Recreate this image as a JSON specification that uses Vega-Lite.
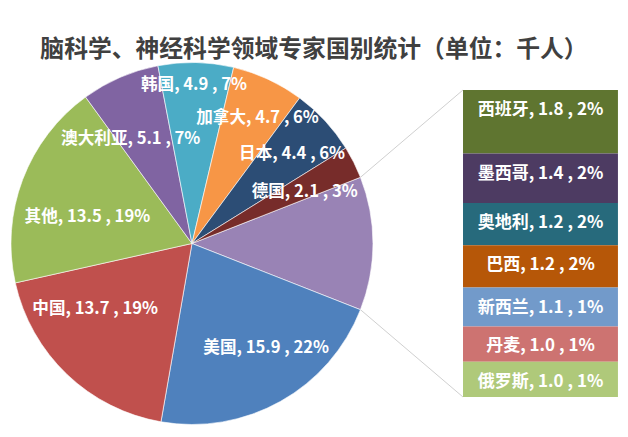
{
  "$schema": "https://vega.github.io/schema/vega-lite/v6.json",
  "width": 628,
  "height": 374,
  "autosize": "none",
  "padding": {"left": 0, "right": 0, "top": 63, "bottom": 0},
  "background": "white",
  "title": {
    "text": "脑科学、神经科学领域专家国别统计（单位：千人）",
    "font": "Noto Sans CJK SC",
    "fontSize": 23.8,
    "fontWeight": "bold",
    "color": "#404040",
    "anchor": "middle",
    "frame": "group",
    "offset": -1
  },
  "config": {"view": {"stroke": null}, "axis": {"disable": true}},
  "datasets": {
    "pie": [
      {"idx": 1, "name": "西班牙等七国", "value": 8.7, "pct": 12},
      {"idx": 2, "name": "美国", "value": 15.9, "pct": 22},
      {"idx": 3, "name": "中国", "value": 13.7, "pct": 19},
      {"idx": 4, "name": "其他", "value": 13.5, "pct": 19},
      {"idx": 5, "name": "澳大利亚", "value": 5.1, "pct": 7},
      {"idx": 6, "name": "韩国", "value": 4.9, "pct": 7},
      {"idx": 7, "name": "加拿大", "value": 4.7, "pct": 6},
      {"idx": 8, "name": "日本", "value": 4.4, "pct": 6},
      {"idx": 9, "name": "德国", "value": 2.1, "pct": 3}
    ],
    "bar": [
      {"idx": 1, "name": "西班牙", "value": 1.8, "pct": 2},
      {"idx": 2, "name": "墨西哥", "value": 1.4, "pct": 2},
      {"idx": 3, "name": "奥地利", "value": 1.2, "pct": 2},
      {"idx": 4, "name": "巴西", "value": 1.2, "pct": 2},
      {"idx": 5, "name": "新西兰", "value": 1.1, "pct": 1},
      {"idx": 6, "name": "丹麦", "value": 1.0, "pct": 1},
      {"idx": 7, "name": "俄罗斯", "value": 1.0, "pct": 1}
    ]
  },
  "layer": [
    {
      "data": {"values": [{}]},
      "mark": {"type": "rule", "color": "#d0d0d0", "strokeWidth": 1},
      "encoding": {
        "x": {"datum": 10.214, "type": "quantitative", "scale": {"domain": [0, 17.795], "nice": false, "zero": false}, "axis": null},
        "y": {"datum": 6.226, "type": "quantitative", "scale": {"domain": [-1.1335, 9.465], "nice": false, "zero": false}, "axis": null},
        "x2": {"datum": 13.12},
        "y2": {"datum": 8.7}
      }
    },
    {
      "data": {"values": [{}]},
      "mark": {"type": "rule", "color": "#d0d0d0", "strokeWidth": 1},
      "encoding": {
        "x": {"datum": 10.214, "type": "quantitative", "scale": {"domain": [0, 17.795], "nice": false, "zero": false}, "axis": null},
        "y": {"datum": 2.474, "type": "quantitative", "scale": {"domain": [-1.1335, 9.465], "nice": false, "zero": false}, "axis": null},
        "x2": {"datum": 13.12},
        "y2": {"datum": 0}
      }
    },
    {
      "data": {"name": "pie"},
      "mark": {"type": "arc", "outerRadius": 181, "stroke": "#ffffff", "strokeWidth": 0.6},
      "encoding": {
        "x": {"datum": 5.44, "type": "quantitative", "scale": {"domain": [0, 17.795], "nice": false, "zero": false}, "axis": null},
        "y": {"datum": 4.35, "type": "quantitative", "scale": {"domain": [-1.1335, 9.465], "nice": false, "zero": false}, "axis": null},
        "theta": {"field": "value", "type": "quantitative", "stack": true, "scale": {"range": [1.1964, 7.4796]}},
        "order": {"field": "idx", "type": "quantitative"},
        "color": {
          "field": "name",
          "type": "nominal",
          "legend": null,
          "scale": {
            "domain": ["西班牙等七国", "美国", "中国", "其他", "澳大利亚", "韩国", "加拿大", "日本", "德国", "西班牙", "墨西哥", "奥地利", "巴西", "新西兰", "丹麦", "俄罗斯"],
            "range": ["#9983B5", "#4F81BD", "#C0504D", "#9BBB59", "#8064A2", "#4BACC6", "#F79646", "#2C4D75", "#772C2A", "#5F7530", "#4D3B62", "#276A7C", "#B65708", "#729ACA", "#CD7371", "#AFC97A"]
          }
        }
      }
    },
    {
      "data": {"name": "pie"},
      "transform": [{"calculate": "datum.name + ', ' + format(datum.value, '.1f') + ' , ' + datum.pct + '%'", "as": "label"}],
      "mark": {"type": "text", "radius": 159, "thetaOffset": -0.009, "font": "Noto Sans CJK SC", "fontSize": 16.6, "fontWeight": "bold", "color": "#ffffff", "align": "center", "baseline": "middle"},
      "encoding": {
        "x": {"datum": 5.44, "type": "quantitative"},
        "y": {"datum": 4.35, "type": "quantitative"},
        "theta": {"field": "value", "type": "quantitative", "stack": true},
        "order": {"field": "idx", "type": "quantitative"},
        "text": {"condition": {"test": "datum.name === '韩国'", "field": "label", "type": "nominal"}, "value": ""}
      }
    },
    {
      "data": {"name": "pie"},
      "transform": [{"calculate": "datum.name + ', ' + format(datum.value, '.1f') + ' , ' + datum.pct + '%'", "as": "label"}],
      "mark": {"type": "text", "radius": 142, "thetaOffset": 0.045, "font": "Noto Sans CJK SC", "fontSize": 16.6, "fontWeight": "bold", "color": "#ffffff", "align": "center", "baseline": "middle"},
      "encoding": {
        "x": {"datum": 5.44, "type": "quantitative"},
        "y": {"datum": 4.35, "type": "quantitative"},
        "theta": {"field": "value", "type": "quantitative", "stack": true},
        "order": {"field": "idx", "type": "quantitative"},
        "text": {"condition": {"test": "datum.name === '加拿大'", "field": "label", "type": "nominal"}, "value": ""}
      }
    },
    {
      "data": {"name": "pie"},
      "transform": [{"calculate": "datum.name + ', ' + format(datum.value, '.1f') + ' , ' + datum.pct + '%'", "as": "label"}],
      "mark": {"type": "text", "radius": 134, "thetaOffset": 0.017, "font": "Noto Sans CJK SC", "fontSize": 16.6, "fontWeight": "bold", "color": "#ffffff", "align": "center", "baseline": "middle"},
      "encoding": {
        "x": {"datum": 5.44, "type": "quantitative"},
        "y": {"datum": 4.35, "type": "quantitative"},
        "theta": {"field": "value", "type": "quantitative", "stack": true},
        "order": {"field": "idx", "type": "quantitative"},
        "text": {"condition": {"test": "datum.name === '日本'", "field": "label", "type": "nominal"}, "value": ""}
      }
    },
    {
      "data": {"name": "pie"},
      "transform": [{"calculate": "datum.name + ', ' + format(datum.value, '.1f') + ' , ' + datum.pct + '%'", "as": "label"}],
      "mark": {"type": "text", "radius": 124, "thetaOffset": 0.034, "font": "Noto Sans CJK SC", "fontSize": 16.6, "fontWeight": "bold", "color": "#ffffff", "align": "center", "baseline": "middle"},
      "encoding": {
        "x": {"datum": 5.44, "type": "quantitative"},
        "y": {"datum": 4.35, "type": "quantitative"},
        "theta": {"field": "value", "type": "quantitative", "stack": true},
        "order": {"field": "idx", "type": "quantitative"},
        "text": {"condition": {"test": "datum.name === '德国'", "field": "label", "type": "nominal"}, "value": ""}
      }
    },
    {
      "data": {"name": "pie"},
      "transform": [{"calculate": "datum.name + ', ' + format(datum.value, '.1f') + ' , ' + datum.pct + '%'", "as": "label"}],
      "mark": {"type": "text", "radius": 128, "thetaOffset": -0.106, "font": "Noto Sans CJK SC", "fontSize": 16.6, "fontWeight": "bold", "color": "#ffffff", "align": "center", "baseline": "middle"},
      "encoding": {
        "x": {"datum": 5.44, "type": "quantitative"},
        "y": {"datum": 4.35, "type": "quantitative"},
        "theta": {"field": "value", "type": "quantitative", "stack": true},
        "order": {"field": "idx", "type": "quantitative"},
        "text": {"condition": {"test": "datum.name === '美国'", "field": "label", "type": "nominal"}, "value": ""}
      }
    },
    {
      "data": {"name": "pie"},
      "transform": [{"calculate": "datum.name + ', ' + format(datum.value, '.1f') + ' , ' + datum.pct + '%'", "as": "label"}],
      "mark": {"type": "text", "radius": 117, "thetaOffset": 0.213, "font": "Noto Sans CJK SC", "fontSize": 16.6, "fontWeight": "bold", "color": "#ffffff", "align": "center", "baseline": "middle"},
      "encoding": {
        "x": {"datum": 5.44, "type": "quantitative"},
        "y": {"datum": 4.35, "type": "quantitative"},
        "theta": {"field": "value", "type": "quantitative", "stack": true},
        "order": {"field": "idx", "type": "quantitative"},
        "text": {"condition": {"test": "datum.name === '中国'", "field": "label", "type": "nominal"}, "value": ""}
      }
    },
    {
      "data": {"name": "pie"},
      "transform": [{"calculate": "datum.name + ', ' + format(datum.value, '.1f') + ' , ' + datum.pct + '%'", "as": "label"}],
      "mark": {"type": "text", "radius": 108, "thetaOffset": -0.110, "font": "Noto Sans CJK SC", "fontSize": 16.6, "fontWeight": "bold", "color": "#ffffff", "align": "center", "baseline": "middle"},
      "encoding": {
        "x": {"datum": 5.44, "type": "quantitative"},
        "y": {"datum": 4.35, "type": "quantitative"},
        "theta": {"field": "value", "type": "quantitative", "stack": true},
        "order": {"field": "idx", "type": "quantitative"},
        "text": {"condition": {"test": "datum.name === '其他'", "field": "label", "type": "nominal"}, "value": ""}
      }
    },
    {
      "data": {"name": "pie"},
      "transform": [{"calculate": "datum.name + ', ' + format(datum.value, '.1f') + ' , ' + datum.pct + '%'", "as": "label"}],
      "mark": {"type": "text", "radius": 121, "thetaOffset": -0.122, "font": "Noto Sans CJK SC", "fontSize": 16.6, "fontWeight": "bold", "color": "#ffffff", "align": "center", "baseline": "middle"},
      "encoding": {
        "x": {"datum": 5.44, "type": "quantitative"},
        "y": {"datum": 4.35, "type": "quantitative"},
        "theta": {"field": "value", "type": "quantitative", "stack": true},
        "order": {"field": "idx", "type": "quantitative"},
        "text": {"condition": {"test": "datum.name === '澳大利亚'", "field": "label", "type": "nominal"}, "value": ""}
      }
    },
    {
      "data": {"name": "bar"},
      "transform": [{"stack": "value", "groupby": [], "sort": [{"field": "idx", "order": "descending"}], "as": ["y0", "y1"]}],
      "mark": {"type": "rect"},
      "encoding": {
        "x": {"datum": 13.12, "type": "quantitative"},
        "x2": {"datum": 17.51},
        "y": {"field": "y0", "type": "quantitative"},
        "y2": {"field": "y1"},
        "color": {"field": "name", "type": "nominal", "legend": null}
      }
    },
    {
      "data": {"name": "bar"},
      "transform": [
        {"stack": "value", "groupby": [], "sort": [{"field": "idx", "order": "descending"}], "as": ["y0", "y1"]},
        {"calculate": "datum.name + ', ' + format(datum.value, '.1f') + ' , ' + datum.pct + '%'", "as": "label"}
      ],
      "mark": {"type": "text", "font": "Noto Sans CJK SC", "fontSize": 17, "fontWeight": "bold", "color": "#ffffff", "align": "center", "baseline": "middle", "dy": 20},
      "encoding": {
        "x": {"datum": 15.315, "type": "quantitative"},
        "y": {"field": "y1", "type": "quantitative"},
        "text": {"field": "label", "type": "nominal"}
      }
    }
  ]
}
